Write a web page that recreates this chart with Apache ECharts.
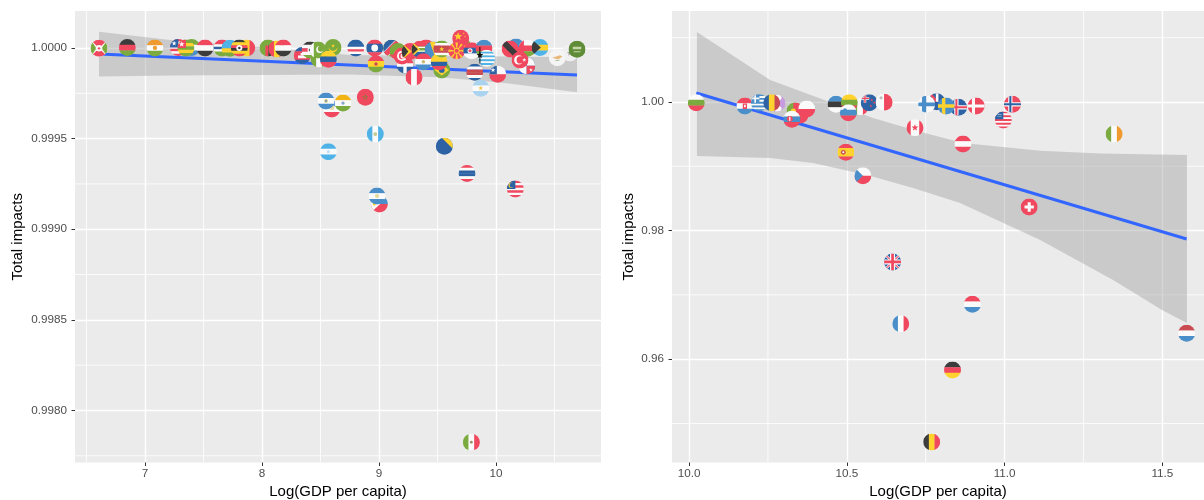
<!DOCTYPE html>
<html>
<head>
<meta charset="utf-8">
<script src="https://cdn.jsdelivr.net/npm/echarts@6/dist/echarts.min.js"></script>
<style>
html,body{margin:0;padding:0;background:#fff;}
#chart{width:1204px;height:500px;}
</style>
</head>
<body>
<div id="chart"></div>
<script>
// low income panel
var leftNames = ['Burundi','Malawi','Niger','SierraLeone','Liberia','Togo','Yemen','Gambia','Rwanda','Mali','Uganda','Zambia','Guinea','Syria','Cambodia','Nigeria','Kenya','Pakistan','Mauritania','Venezuela','CapeVerde','Salvador2','Nicaragua','India','Laos','Namibia','Bolivia','Burkina','Dominican','Tunisia','Timor','Georgia','SouthAfrica','Kazakhstan','Paraguay','Peru','Brazil','Colombia','Suriname','Guyana','China','Macedonia','Serbia','Azerbaijan','Uruguay','Jordan','CostaRica','Argentina','Chile','Botswana','TrinidadTobago','Oman','Bahamas','Panama','Turkey','Lebanon','Cyprus','SaudiArabia','Honduras','Guatemala','Bosnia','Thailand','Malaysia','Philippines','Salvador','Morocco','Mexico'];
var leftGdp = [6.607,6.849,7.085,7.399,7.285,7.350,7.513,7.658,7.726,7.869,7.806,8.051,8.126,8.182,8.344,8.487,8.410,8.479,8.607,8.567,8.801,8.596,8.547,8.692,8.963,9.108,8.974,9.162,9.222,9.197,9.265,9.402,9.350,9.462,9.379,9.299,9.536,9.513,9.536,9.707,9.698,9.664,9.792,9.897,9.920,9.862,9.818,9.869,10.014,10.171,10.120,10.267,10.376,10.262,10.205,10.632,10.524,10.692,8.567,8.968,9.558,9.752,10.165,9.003,8.983,8.883,9.789];
var leftImpact = [0.999998,1.000002,1.0,1.000002,1.000002,1.0,1.0,1.0,0.999998,1.0,1.0,1.0,0.999994,1.0,0.999958,0.999939,0.999989,0.999989,1.000002,0.999938,1.0,0.999663,0.999708,0.999696,1.0,0.999998,0.999912,0.99998,0.999906,0.999956,0.99998,1.0,0.999993,0.999989,0.999924,0.999838,0.999879,0.999924,0.999994,1.000017,1.000054,0.999985,0.999985,0.999998,0.999943,0.99996,0.999866,0.999778,0.999855,1.000006,0.999994,0.999998,1.000002,0.999902,0.999934,0.999972,0.999946,0.999993,0.999428,0.999525,0.999458,0.999308,0.999222,0.999139,0.999183,0.999728,0.997825];
var leftLineX = [6.607,10.692];
var leftLineY = [0.999967,0.999851];
var leftBandX = [6.607,7.214,7.957,8.752,9.521,10.094,10.692];
var leftBandUpper = [1.00009,1.000044,1.000007,0.999961,0.999956,0.999953,0.999949];
var leftBandLower = [0.999842,0.999848,0.999851,0.999854,0.999838,0.999805,0.999756];
var leftXTicks = [7,8,9,10];
var leftXMinor = [6.5,7.5,8.5,9.5,10.5];
var leftYTicks = [0.998,0.9985,0.999,0.9995,1];
var leftYMinor = [0.99775,0.99825,0.99875,0.99925,0.99975];

// high income panel
var rightNames = ['Bulgaria','Croatia','Greece','Armenia','Romania','Lithuania2','Portugal','Poland','Slovakia','Estonia','Italy','Lithuania','Slovenia','NewZealand','Malta','Australia','Finland','Iceland','Sweden','Denmark','Norway','USA','Canada','Austria','Spain','Czech','Ireland','UK','Switzerland','Netherlands','Luxembourg','France','Germany','Belgium'];
var rightGdp = [10.023,10.177,10.223,10.278,10.262,10.352,10.336,10.373,10.326,10.466,10.542,10.508,10.505,10.571,10.618,10.785,10.753,10.854,10.815,10.91,11.025,10.996,10.716,10.868,10.497,10.551,11.347,10.645,11.078,11.577,10.898,10.671,10.835,10.769];
var rightImpact = [0.99989,0.99938,0.99989,0.9998,0.99989,0.99798,0.9986,0.99891,0.99731,0.99964,0.99927,0.99989,0.99834,0.99989,0.99995,1.00005,0.99964,0.99918,0.99938,0.99938,0.99964,0.9972,0.996,0.99347,0.99218,0.98854,0.99502,0.97512,0.98367,0.96403,0.96854,0.96552,0.95832,0.94712];
var rightLineX = [10.023,11.577];
var rightLineY = [1.0014,0.97869];
var rightUpperX = [10.025,10.257,10.583,10.732,10.868,11.113,11.303,11.578];
var rightUpper = [1.01089,1.00342,0.99751,0.99538,0.99362,0.99243,0.99199,0.99176];
var rightLowerX = [10.025,10.257,10.393,10.564,10.71,10.859,11.113,11.344,11.499,11.578];
var rightLower = [0.9916,0.99129,0.99051,0.98865,0.98663,0.98429,0.97854,0.97232,0.96765,0.96563];
var rightXTicks = [10,10.5,11,11.5];
var rightXMinor = [10.25,10.75,11.25];
var rightYTicks = [0.96,0.98,1];
var rightYMinor = [0.95,0.97,0.99,1.01];

var RED='#F0485F',GRN='#7BAB3F',BLU='#2D63A5',LBL='#4A8FC9',SKY='#4FB3E8',YEL='#FFD22E',DRK='#3C3C3C',WHT='#FAFAFA',ORG='#F0992E',DRD='#C94A50';

// flag drawing ops, coordinates are -1..1 inside the circle
var flags = {
  Burundi:[['h',WHT],['p',[-1,-1,1,-1,0,0],RED],['p',[-1,1,1,1,0,0],RED],['p',[-1,-1,-1,1,-.3,0],GRN],['p',[1,-1,1,1,.3,0],GRN],['c',0,0,.38,WHT],['c',0,0,.14,RED]],
  Malawi:[['h',DRK,RED,GRN]],
  Niger:[['h',ORG,WHT,GRN],['c',0,0,.25,ORG]],
  SierraLeone:[['h',GRN,WHT,LBL]],
  Liberia:[['h',RED,WHT,RED,WHT,RED,WHT,RED],['r',-1,-1,1,1,BLU],['s',-.5,-.5,.3,WHT]],
  Togo:[['h',GRN,YEL,GRN,YEL,GRN],['r',-1,-1,1,1,RED],['s',-.5,-.45,.35,WHT]],
  Yemen:[['h',RED,WHT,DRK]],
  Gambia:[['h',RED,RED,WHT,BLU,WHT,GRN,GRN]],
  Rwanda:[['h',SKY,SKY,YEL,GRN],['c',.45,-.5,.2,YEL]],
  Mali:[['v',GRN,YEL,RED]],
  Uganda:[['h',DRK,YEL,RED,DRK,YEL,RED],['c',0,0,.36,WHT],['c',0,0,.15,DRK]],
  Zambia:[['h',GRN],['r',-.3,-.3,.35,1.3,RED],['r',.05,-.3,.35,1.3,DRK],['r',.4,-.3,.35,1.3,ORG]],
  Guinea:[['v',RED,YEL,RED]],
  Syria:[['h',RED,WHT,DRK]],
  Cambodia:[['h',BLU,RED,RED,BLU],['r',-.5,0,1,.3,WHT],['r',-.2,-.3,.4,.3,WHT]],
  Nigeria:[['v',GRN,WHT,GRN]],
  Kenya:[['h',DRK,WHT,RED,WHT,GRN],['c',0,0,.3,WHT],['c',0,0,.15,DRK]],
  Pakistan:[['h',GRN],['r',-1,-1,.5,2,WHT],['c',.2,-.05,.42,WHT],['c',.33,-.15,.36,GRN]],
  Mauritania:[['h',GRN],['c',0,.05,.5,YEL],['c',0,-.12,.5,GRN],['s',0,-.2,.22,YEL]],
  Venezuela:[['h',YEL,BLU,RED]],
  CapeVerde:[['h',BLU,BLU,BLU,WHT,RED,WHT,BLU]],
  Salvador2:[['h',LBL,WHT,RED],['c',0,-.2,.3,'#E5D9A0']],
  Nicaragua:[['h',LBL,WHT,LBL],['c',0,0,.22,'#DCCB7A'],['c',0,0,.1,LBL]],
  India:[['h','#F2B315',WHT,GRN],['c',0,0,.2,'#8AA7C4']],
  Laos:[['h',RED,BLU,BLU,RED],['c',0,0,.4,WHT]],
  Namibia:[['h',GRN],['p',[-1,-1,1,-1,-1,1],BLU],['p',[-1,.55,.55,-1,1,-1,1,-.55,-.55,1,-1,1],RED],['p',[-1,.45,.45,-1,.55,-1,-1,.55],WHT],['p',[1,-.45,-.45,1,-.55,1,1,-.55],WHT]],
  Bolivia:[['h',RED,YEL,GRN],['c',0,0,.2,DRD]],
  Burkina:[['h',GRN,GRN,RED],['s',0,0,.4,YEL]],
  Dominican:[['h',RED,BLU],['r',-.2,-1,.4,2,WHT],['r',-1,-.2,2,.4,WHT]],
  Tunisia:[['h',RED],['c',0,0,.6,WHT],['c',0,0,.38,RED],['c',.14,0,.32,WHT],['s',.12,0,.22,RED]],
  Timor:[['h',RED],['p',[-1,-1,.2,0,-1,1],YEL],['p',[-1,-1,-.2,0,-1,1],DRK]],
  Georgia:[['h',RED,'#D85A5A']],
  SouthAfrica:[['h',RED,GRN,BLU],['r',-1,-.3,2,.6,WHT],['r',-1,-.15,2,.3,GRN],['p',[-1,-1,0,0,-1,1],YEL],['p',[-1,-.75,-.25,0,-1,.75],DRK]],
  Kazakhstan:[['h',LBL],['p',[-.4,-1,.2,-1,1,.2,1,1,.3,1],YEL]],
  Paraguay:[['h',RED,WHT,LBL],['c',0,0,.2,'#C9B870']],
  Peru:[['v',RED,WHT,RED]],
  Brazil:[['h',GRN],['p',[-.85,0,0,-.65,.85,0,0,.65],YEL],['c',0,0,.34,BLU]],
  Colombia:[['h',YEL,YEL,BLU,RED]],
  Suriname:[['h',GRN,WHT,DRD,DRD,DRD,WHT,GRN],['s',0,0,.3,YEL]],
  Guyana:[['h',GRN],['p',[-1,-1,1,0,-1,1],YEL]],
  China:[['h',RED],['s',-.3,-.2,.5,YEL],['s',.35,-.55,.12,YEL],['s',.5,-.2,.12,YEL]],
  Macedonia:[['h',RED],['p',[-.15,-1,.15,-1,0,0],YEL],['p',[-.15,1,.15,1,0,0],YEL],['p',[-1,-.15,-1,.15,0,0],YEL],['p',[1,-.15,1,.15,0,0],YEL],['p',[-1,-1,-.6,-1,0,0],YEL],['p',[1,1,.6,1,0,0],YEL],['p',[1,-1,.6,-1,0,0],YEL],['p',[-1,1,-.6,1,0,0],YEL],['c',0,0,.35,YEL],['c',0,0,.24,RED]],
  Serbia:[['h',RED,BLU,WHT],['c',-.2,0,.3,WHT],['c',-.2,0,.18,RED]],
  Azerbaijan:[['h',LBL,RED,GRN]],
  Uruguay:[['h',WHT,SKY,WHT,SKY,WHT,SKY,WHT,SKY,WHT]],
  Jordan:[['s',0,0,.42,'#111'],['r',-.06,-1,.12,2,'#111']],
  CostaRica:[['h',BLU,WHT,DRD,DRD,WHT,BLU]],
  Argentina:[['h','#A9D3EE',WHT,'#A9D3EE'],['s',0,0,.3,'#F2C94C']],
  Chile:[['h',WHT,RED],['r',-1,-1,.9,1,BLU],['s',-.55,-.5,.3,WHT]],
  Botswana:[['h',LBL,LBL,RED,RED]],
  TrinidadTobago:[['h',RED],['p',[-1,-.8,-.7,-1,1,.7,.8,1],WHT],['p',[-1,-.55,-.5,-1,1,.45,.55,1],DRK]],
  Oman:[['h',WHT,RED,GRN],['r',-1,-1,.6,2,RED]],
  Bahamas:[['h',SKY,YEL,SKY],['p',[-1,-1,.1,0,-1,1],DRK]],
  Panama:[['h',BLU],['r',0,-1,1,1,WHT],['r',-1,0,1,1,WHT],['r',0,0,1,1,RED],['s',.5,.5,.22,WHT]],
  Turkey:[['h',RED],['c',-.15,0,.55,WHT],['c',.03,0,.43,RED],['s',.5,0,.25,WHT]],
  Lebanon:[['h','#F0F0F0'],['s',0,0,.4,'#A9A9A9']],
  Cyprus:[['h','#F4F4F4'],['p',[-.6,0,.3,-.3,.6,-.15,.1,.2],'#E8B87A'],['r',-.25,.25,.5,.1,'#9CBB86']],
  SaudiArabia:[['h','#5F8D37'],['r',-.5,-.3,1,.3,'#C4D5A8'],['r',-.4,.25,.8,.1,'#C4D5A8']],
  Honduras:[['h',SKY,WHT,SKY],['c',0,0,.18,'#BFE0F4']],
  Guatemala:[['v',SKY,WHT,SKY],['c',0,0,.22,'#C2C98A']],
  Bosnia:[['h',BLU],['p',[-.3,-1,1,-1,1,.3],YEL]],
  Thailand:[['h',RED,WHT,BLU,BLU,WHT,RED]],
  Malaysia:[['h',RED,WHT,RED,WHT,RED,WHT,RED],['r',-1,-1,1,1,BLU],['c',-.5,-.45,.3,YEL],['c',-.4,-.45,.27,BLU]],
  Philippines:[['h',LBL,RED],['p',[-1,-1,.1,0,-1,1],WHT],['c',-.6,0,.18,YEL]],
  Salvador:[['h',LBL,WHT,LBL],['c',0,0,.25,'#E4DC9E']],
  Morocco:[['h',RED],['s',0,0,.4,'#8A7A3A'],['s',0,0,.22,RED]],
  Mexico:[['v',GRN,WHT,RED],['c',0,0,.16,'#9A8A62']],
  Bulgaria:[['h',WHT,GRN,RED]],
  Croatia:[['h',RED,WHT,LBL],['r',-.25,-.3,.5,.65,RED],['r',-.1,-.15,.2,.3,WHT]],
  Greece:[['h',LBL,WHT,LBL,WHT,LBL,WHT,LBL,WHT,LBL],['r',-1,-1,1,1,LBL],['r',-.6,-1,.2,1,WHT],['r',-1,-.6,1,.2,WHT]],
  Armenia:[['h','#C79BE0'],['r',-.2,-1,.75,2,WHT],['c',.7,0,.5,'#C79BE0']],
  Romania:[['v',BLU,YEL,DRD]],
  Lithuania2:[['h',RED]],
  Portugal:[['h',GRN],['r',-.2,-1,1.2,2,RED],['c',-.2,0,.3,YEL]],
  Poland:[['h',WHT,RED]],
  Slovakia:[['h',WHT,LBL,RED],['c',-.25,-.05,.35,RED],['r',-.32,-.3,.14,.5,WHT]],
  Estonia:[['h',LBL,DRK,WHT]],
  Italy:[['v',GRN,WHT,RED]],
  Lithuania:[['h',YEL,GRN,RED]],
  Slovenia:[['h',WHT,LBL,RED],['c',-.4,-.3,.22,LBL]],
  NewZealand:[['h',BLU],['s',.3,-.3,.18,RED],['s',.6,0,.18,RED],['s',.2,.4,.18,RED],['r',-1,-.65,1,.3,WHT],['r',-.65,-1,.3,1,WHT],['r',-1,-.58,1,.16,RED],['r',-.58,-1,.16,1,RED]],
  Malta:[['v',WHT,RED],['r',-.55,-.6,.4,.15,'#B8B8B8'],['r',-.43,-.72,.15,.4,'#B8B8B8']],
  Finland:[['h',WHT],['r',-.55,-1,.5,2,LBL],['r',-1,-.22,2,.44,LBL]],
  Australia:[['h',BLU],['p',[-1,-1,-.6,-1,.2,0,-.2,0],RED],['r',-.1,-1,.3,1,WHT]],
  Iceland:[['h',BLU],['r',-.5,-1,.5,2,WHT],['r',-1,-.25,2,.5,WHT],['r',-.37,-1,.24,2,RED],['r',-1,-.12,2,.24,RED]],
  Sweden:[['h',LBL],['r',-.5,-1,.4,2,YEL],['r',-1,-.2,2,.4,YEL]],
  Denmark:[['h',RED],['r',-.5,-1,.36,2,WHT],['r',-1,-.18,2,.36,WHT]],
  Norway:[['h',RED],['r',-.5,-1,.5,2,WHT],['r',-1,-.25,2,.5,WHT],['r',-.37,-1,.24,2,BLU],['r',-1,-.12,2,.24,BLU]],
  USA:[['h',RED,WHT,RED,WHT,RED,WHT,RED,WHT,RED],['r',-1,-1,1,.9,BLU],['r',-.7,-.7,.5,.08,'#B9C8DE'],['r',-.7,-.45,.5,.08,'#B9C8DE']],
  Canada:[['v',RED,WHT,WHT,RED],['s',0,0,.42,RED]],
  Austria:[['h',RED,WHT,RED]],
  Spain:[['h',RED,YEL,YEL,RED],['c',-.3,0,.28,DRD],['c',-.3,0,.13,WHT]],
  Czech:[['h',WHT,RED],['p',[-1,-1,0,0,-1,1],LBL]],
  Ireland:[['v',GRN,WHT,ORG]],
  UK:[['h',BLU],['p',[-1,-.8,-.8,-1,1,.8,.8,1],WHT],['p',[1,-.8,.8,-1,-1,.8,-.8,1],WHT],['p',[-1,-.92,-.92,-1,1,.92,.92,1],RED],['p',[1,-.92,.92,-1,-1,.92,-.92,1],RED],['r',-.3,-1,.6,2,WHT],['r',-1,-.3,2,.6,WHT],['r',-.16,-1,.32,2,RED],['r',-1,-.16,2,.32,RED]],
  Switzerland:[['h',RED],['r',-.18,-.55,.36,1.1,WHT],['r',-.55,-.18,1.1,.36,WHT]],
  Netherlands:[['h',DRD,WHT,LBL]],
  Luxembourg:[['h',RED,WHT,LBL]],
  France:[['v',LBL,WHT,RED]],
  Germany:[['h',DRK,RED,YEL]],
  Belgium:[['v',DRK,YEL,RED]]
};

var FLAG_R = 8.5;

function starPoints(cx,cy,r){
  var pts=[];
  for(var i=0;i<10;i++){
    var a=-Math.PI/2+i*Math.PI/5, k=i%2?r*0.42:r;
    pts.push([(cx+k*Math.cos(a))*FLAG_R,(cy+k*Math.sin(a))*FLAG_R]);
  }
  return pts;
}
function flagChildren(name){
  var out=[];
  (flags[name]||[['h',WHT]]).forEach(function(op){
    var kind=op[0];
    if(kind==='h'||kind==='v'){
      var colors=op.slice(1), step=2/colors.length;
      colors.forEach(function(c,i){
        var s=(-1+i*step)*FLAG_R, w=step*FLAG_R+0.3;
        var shape=kind==='h'?{x:-FLAG_R,y:s,width:FLAG_R*2,height:w}:{x:s,y:-FLAG_R,width:w,height:FLAG_R*2};
        out.push({type:'rect',shape:shape,style:{fill:c}});
      });
    }else if(kind==='r'){
      out.push({type:'rect',shape:{x:op[1]*FLAG_R,y:op[2]*FLAG_R,width:op[3]*FLAG_R,height:op[4]*FLAG_R},style:{fill:op[5]}});
    }else if(kind==='c'){
      out.push({type:'circle',shape:{cx:op[1]*FLAG_R,cy:op[2]*FLAG_R,r:op[3]*FLAG_R},style:{fill:op[4]}});
    }else if(kind==='s'){
      out.push({type:'polygon',shape:{points:starPoints(op[1],op[2],op[3])},style:{fill:op[4]}});
    }else if(kind==='p'){
      var pts=[];
      for(var j=0;j<op[1].length;j+=2) pts.push([op[1][j]*FLAG_R,op[1][j+1]*FLAG_R]);
      out.push({type:'polygon',shape:{points:pts},style:{fill:op[2]}});
    }
  });
  return out;
}

function flagSeries(idx,names,xs,ys){
  return {
    type:'custom',xAxisIndex:idx,yAxisIndex:idx,z:5,silent:true,clip:false,
    data:xs.map(function(x,i){return [x,ys[i],i];}),
    encode:{x:0,y:1},
    renderItem:function(params,api){
      var p=api.coord([api.value(0),api.value(1)]);
      var name=names[api.value(2)];
      return {
        type:'group',x:p[0],y:p[1],
        clipPath:{type:'circle',shape:{cx:0,cy:0,r:FLAG_R}},
        children:flagChildren(name)
      };
    }
  };
}
// confidence ribbon
function bandSeries(idx,upX,up,lowX,low){
  return {
    type:'custom',xAxisIndex:idx,yAxisIndex:idx,z:3,silent:true,data:[[upX[0],up[0]]],
    encode:{x:0,y:1},
    renderItem:function(params,api){
      var pts=[];
      upX.forEach(function(x,i){pts.push(api.coord([x,up[i]]));});
      for(var i=lowX.length-1;i>=0;i--) pts.push(api.coord([lowX[i],low[i]]));
      return {type:'polygon',shape:{points:pts},style:{fill:'rgba(153,153,153,0.4)'}};
    }
  };
}
function minorSeries(idx,xs,ys){
  var rows=xs.map(function(v){return ['x',v];}).concat(ys.map(function(v){return ['y',v];}));
  return {
    type:'custom',xAxisIndex:idx,yAxisIndex:idx,z:1,silent:true,data:rows.map(function(r,i){return [i];}),
    encode:{},
    renderItem:function(params,api){
      var r=rows[params.dataIndex], c=params.coordSys, shape;
      if(r[0]==='x'){
        var px=api.coord([r[1],0])[0];
        shape={x1:px,y1:c.y,x2:px,y2:c.y+c.height};
      }else{
        var py=api.coord([0,r[1]])[1];
        shape={x1:c.x,y1:py,x2:c.x+c.width,y2:py};
      }
      return {type:'line',shape:shape,style:{stroke:'#fff',lineWidth:0.8}};
    }
  };
}
function lineSeries(idx,xs,ys){
  return {
    type:'line',xAxisIndex:idx,yAxisIndex:idx,z:4,silent:true,symbol:'none',
    lineStyle:{color:'#3366FF',width:3},
    data:xs.map(function(x,i){return [x,ys[i]];})
  };
}
function makeAxis(gridIndex,pos,min,max,ticks,digits,title,gap){
  var isX=pos==='x';
  return {
    type:'value',gridIndex:gridIndex,min:min,max:max,
    name:title,nameLocation:'middle',nameGap:gap,
    nameTextStyle:{color:'#000',fontSize:15,fontFamily:'Liberation Sans'},
    axisLine:{show:false},
    axisTick:{show:true,length:3.5,customValues:ticks,lineStyle:{color:'#333',width:1}},
    axisLabel:{
      color:'#4D4D4D',fontSize:11.7,fontFamily:'Liberation Sans',margin:isX?5:8,
      customValues:ticks,showMinLabel:true,showMaxLabel:true,
      formatter:function(v){return Number(v).toFixed(digits);}
    },
    splitLine:{show:true,lineStyle:{color:'#fff',width:1.4}}
  };
}

var myChart = echarts.init(document.getElementById('chart'),null,{renderer:'canvas'});
myChart.setOption({
  animation:false,
  grid:[
    {left:75,top:11,width:526,height:451.5,show:true,backgroundColor:'#EBEBEB',borderWidth:0,containLabel:false,outerBoundsMode:'none'},
    {left:672,top:11,width:532,height:451.5,show:true,backgroundColor:'#EBEBEB',borderWidth:0,containLabel:false,outerBoundsMode:'none'}
  ],
  xAxis:[
    makeAxis(0,'x',6.4017,10.897,leftXTicks,0,'Log(GDP per capita)',20),
    makeAxis(1,'x',9.946,11.632,rightXTicks,1,'Log(GDP per capita)',20)
  ],
  yAxis:[
    makeAxis(0,'y',0.997713,1.000204,leftYTicks,4,'Total impacts',50),
    makeAxis(1,'y',0.94393,1.01415,rightYTicks,2,'Total impacts',36)
  ],
  series:[
    minorSeries(0,leftXMinor,leftYMinor),
    minorSeries(1,rightXMinor,rightYMinor),
    bandSeries(0,leftBandX,leftBandUpper,leftBandX,leftBandLower),
    bandSeries(1,rightUpperX,rightUpper,rightLowerX,rightLower),
    lineSeries(0,leftLineX,leftLineY),
    lineSeries(1,rightLineX,rightLineY),
    flagSeries(0,leftNames,leftGdp,leftImpact),
    flagSeries(1,rightNames,rightGdp,rightImpact)
  ]
});
</script>
</body>
</html>
